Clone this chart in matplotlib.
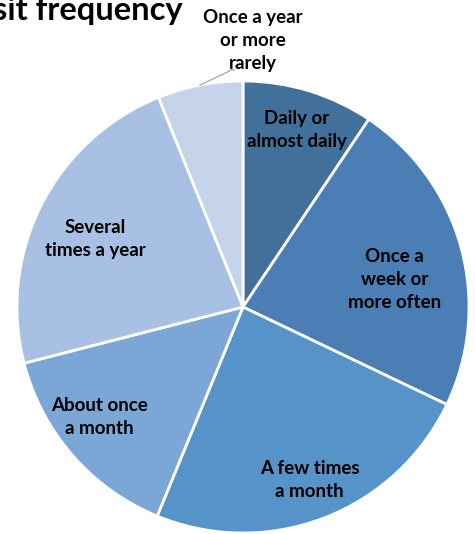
import matplotlib
matplotlib.use("Agg")
import matplotlib.pyplot as plt
import numpy as np

categories = ["Daily or\nalmost daily", "Once a\nweek or\nmore often", "A few times\na month",
              "About once\na month", "Several\ntimes a year", "Once a year\nor more\nrarely"]
shares = [9.4, 22.7, 24.1, 14.8, 22.9, 6.1]
colors = ["#41709b", "#4a7eb4", "#5593c9", "#7ba7d7", "#a7c0e4", "#c5d4ea"]
label_radius = [0.82, 0.68, 0.82, 0.80, 0.72, 1.18]
label_shift_deg = [0, 5, 0, 3.6, -2, 13]  # clockwise shift of label from slice middle
title = "Visit frequency"

plt.rcParams['font.family'] = ['Lato', 'DejaVu Sans']

W, H = 475, 534
fig = plt.figure(figsize=(W / 100, H / 100), dpi=100)
ax = fig.add_axes([17 / W, 1 / H, 452 / W, 452 / H])
wedges, _ = ax.pie(shares, colors=colors, startangle=90, counterclock=False,
                   radius=1.0, wedgeprops=dict(edgecolor="white", linewidth=2))
ax.set_xlim(-1, 1)
ax.set_ylim(-1, 1)
ax.set_aspect("equal")
ax.axis("off")

for w, lab, r, sh in zip(wedges, categories, label_radius, label_shift_deg):
    ang = np.deg2rad((w.theta1 + w.theta2) / 2 - sh)
    x, y = r * np.cos(ang), r * np.sin(ang)
    ax.text(x, y, lab, ha="center", va="center", fontsize=13.5, fontweight="bold",
            color="black", linespacing=1.45, clip_on=False)

# leader line for the small slice
w = wedges[-1]
ang = np.deg2rad((w.theta1 + w.theta2) / 2)
x0, y0 = 1.0 * np.cos(ang), 1.0 * np.sin(ang)
ax.plot([x0, x0 + 0.14, x0 + 0.155], [y0, y0 + 0.067, y0 + 0.067], color="#a6a6a6",
        lw=0.9, clip_on=False)

fig.text(183 / W, 1 - 20 / H, title, ha="right", va="baseline", fontsize=23.5,
         fontweight="bold", color="black")

fig.savefig("out.png", dpi=100)
